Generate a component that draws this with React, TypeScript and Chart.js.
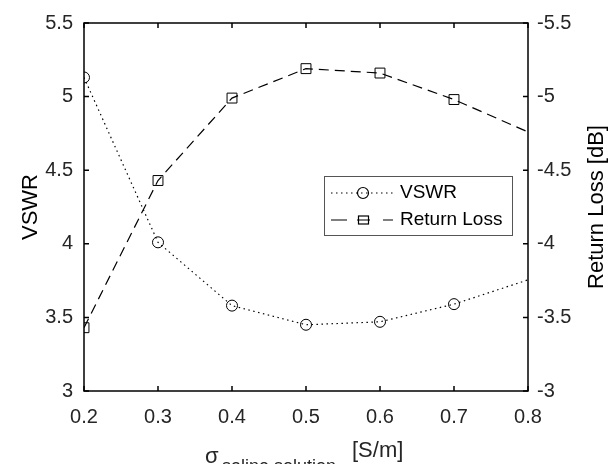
import React, { useEffect, useRef } from "react";
import Chart from "chart.js/auto";

const sigma = [0.2, 0.3, 0.4, 0.5, 0.6, 0.7, 0.9];
const vswr = [5.13, 4.01, 3.58, 3.45, 3.47, 3.59, 3.92];
const returnLoss = [-3.43, -4.43, -4.99, -5.19, -5.16, -4.98, -4.54];

const xTickValues = [0.2, 0.3, 0.4, 0.5, 0.6, 0.7, 0.8];
const xTickLabels = ["0.2", "0.3", "0.4", "0.5", "0.6", "0.7", "0.8"];
const yTickValues = [3, 3.5, 4, 4.5, 5, 5.5];
const yTickLabels = ["3", "3.5", "4", "4.5", "5", "5.5"];
const y2TickValues = [-5.5, -5, -4.5, -4, -3.5, -3];
const y2TickLabels = ["-5.5", "-5", "-4.5", "-4", "-3.5", "-3"];

const FONT = "'Liberation Sans', Arial, sans-serif";

const decorPlugin = {
  id: "decor",
  afterDraw(chart: any) {
    const ctx = chart.ctx as CanvasRenderingContext2D;
    const { left, right, top, bottom } = chart.chartArea;
    const xs = chart.scales.x;
    const ys = chart.scales.y;
    const y2 = chart.scales.y2;
    ctx.save();
    // box
    ctx.strokeStyle = "#000";
    ctx.lineWidth = 1.5;
    ctx.setLineDash([]);
    ctx.strokeRect(left, top, right - left, bottom - top);
    // ticks
    const tl = 5;
    ctx.beginPath();
    xTickValues.forEach((v) => {
      const px = xs.getPixelForValue(v);
      ctx.moveTo(px, bottom);
      ctx.lineTo(px, bottom - tl);
      ctx.moveTo(px, top);
      ctx.lineTo(px, top + tl);
    });
    yTickValues.forEach((v) => {
      const py = ys.getPixelForValue(v);
      ctx.moveTo(left, py);
      ctx.lineTo(left + tl, py);
    });
    y2TickValues.forEach((v) => {
      const py = y2.getPixelForValue(v);
      ctx.moveTo(right, py);
      ctx.lineTo(right - tl, py);
    });
    ctx.stroke();

    // axis titles
    ctx.fillStyle = "#000";
    ctx.font = `22px ${FONT}`;
    ctx.textAlign = "center";
    ctx.textBaseline = "middle";
    ctx.save();
    ctx.translate(31, (top + bottom) / 2);
    ctx.rotate(-Math.PI / 2);
    ctx.fillText("VSWR", 0, 0);
    ctx.restore();
    ctx.save();
    ctx.translate(597, (top + bottom) / 2);
    ctx.rotate(-Math.PI / 2);
    ctx.fillText("Return Loss [dB]", 0, 0);
    ctx.restore();

    // x title with subscript
    ctx.fillStyle = "#262626";
    ctx.textAlign = "left";
    ctx.textBaseline = "alphabetic";
    ctx.font = `22px ${FONT}`;
    ctx.fillText("σ", 205, 463);
    ctx.font = `18px ${FONT}`;
    ctx.fillText("saline solution", 222, 472);
    ctx.font = `22px ${FONT}`;
    ctx.fillText("[S/m]", 352, 457);

    // legend
    const lx = 324, ly = 176, lw = 188, lh = 59;
    ctx.fillStyle = "#fff";
    ctx.fillRect(lx, ly, lw, lh);
    ctx.strokeStyle = "#555";
    ctx.lineWidth = 1;
    ctx.strokeRect(lx + 0.5, ly + 0.5, lw, lh);

    ctx.strokeStyle = "#000";
    ctx.lineWidth = 1.2;
    // VSWR row
    const r1 = 193;
    ctx.setLineDash([1.5, 3.5]);
    ctx.beginPath();
    ctx.moveTo(331, r1);
    ctx.lineTo(395, r1);
    ctx.stroke();
    ctx.setLineDash([]);
    ctx.beginPath();
    ctx.arc(363, r1, 5.5, 0, Math.PI * 2);
    ctx.stroke();
    // Return loss row
    const r2 = 220;
    ctx.beginPath();
    ctx.moveTo(331, r2);
    ctx.lineTo(347, r2);
    ctx.moveTo(357, r2);
    ctx.lineTo(370, r2);
    ctx.moveTo(383, r2);
    ctx.lineTo(393, r2);
    ctx.stroke();
    ctx.strokeRect(358.5, r2 - 4, 10, 8);

    ctx.fillStyle = "#000";
    ctx.font = `19px ${FONT}`;
    ctx.textBaseline = "middle";
    ctx.fillText("VSWR", 400, r1);
    ctx.fillText("Return Loss", 400, r2);
    ctx.restore();
  },
};

export default function App() {
  const ref = useRef<HTMLCanvasElement | null>(null);
  useEffect(() => {
    document.body.style.margin = "0";
    const canvas = ref.current;
    if (!canvas) return;
    const tickFont = { family: FONT, size: 20 };
    const chart = new Chart(canvas, {
      type: "line",
      data: {
        datasets: [
          {
            label: "VSWR",
            data: sigma.map((s, i) => ({ x: s, y: vswr[i] })),
            yAxisID: "y",
            borderColor: "#000",
            borderWidth: 1.2,
            borderDash: [1.5, 3.5],
            pointStyle: "circle",
            pointRadius: 5.5,
            pointBorderWidth: 1,
            pointBorderColor: "#000",
            pointBackgroundColor: "rgba(0,0,0,0)",
            tension: 0,
            fill: false,
          },
          {
            label: "Return Loss",
            data: sigma.map((s, i) => ({ x: s, y: returnLoss[i] })),
            yAxisID: "y2",
            borderColor: "#000",
            borderWidth: 1.2,
            borderDash: [10, 6],
            pointStyle: "rect",
            pointRadius: 7,
            pointBorderWidth: 1,
            pointBorderColor: "#000",
            pointBackgroundColor: "rgba(0,0,0,0)",
            tension: 0,
            fill: false,
          },
        ],
      },
      options: {
        animation: false,
        responsive: true,
        maintainAspectRatio: false,
        layout: { padding: { top: 21, left: 0, right: 0, bottom: 0 } },
        plugins: {
          legend: { display: false },
          tooltip: { enabled: false },
        },
        scales: {
          x: {
            type: "linear",
            position: "bottom",
            min: 0.2,
            max: 0.8,
            grid: { display: false, drawTicks: false },
            border: { display: false },
            afterBuildTicks: (s: any) => {
              s.ticks = xTickValues.map((v) => ({ value: v }));
            },
            afterFit: (s: any) => {
              s.height = 73;
            },
            ticks: {
              autoSkip: false,
              maxRotation: 0,
              padding: 14,
              color: "#262626",
              font: tickFont,
              callback: (_v: any, i: number) => xTickLabels[i],
            },
          },
          y: {
            type: "linear",
            position: "left",
            min: 3,
            max: 5.5,
            grid: { display: false, drawTicks: false },
            border: { display: false },
            afterBuildTicks: (s: any) => {
              s.ticks = yTickValues.map((v) => ({ value: v }));
            },
            afterFit: (s: any) => {
              s.width = 84;
            },
            ticks: {
              autoSkip: false,
              padding: 11,
              color: "#262626",
              font: tickFont,
              callback: (_v: any, i: number) => yTickLabels[i],
            },
          },
          y2: {
            type: "linear",
            position: "right",
            min: -5.5,
            max: -3,
            reverse: true,
            grid: { display: false, drawTicks: false },
            border: { display: false },
            afterBuildTicks: (s: any) => {
              s.ticks = y2TickValues.map((v) => ({ value: v }));
            },
            afterFit: (s: any) => {
              s.width = 81;
            },
            ticks: {
              autoSkip: false,
              padding: 9,
              color: "#262626",
              font: tickFont,
              callback: (_v: any, i: number) => y2TickLabels[i],
            },
          },
        },
      },
      plugins: [decorPlugin],
    } as any);
    return () => chart.destroy();
  }, []);
  return (
    <div style={{ position: "fixed", left: 0, top: 0, width: 609, height: 464, background: "#fff" }}>
      <canvas ref={ref} />
    </div>
  );
}
